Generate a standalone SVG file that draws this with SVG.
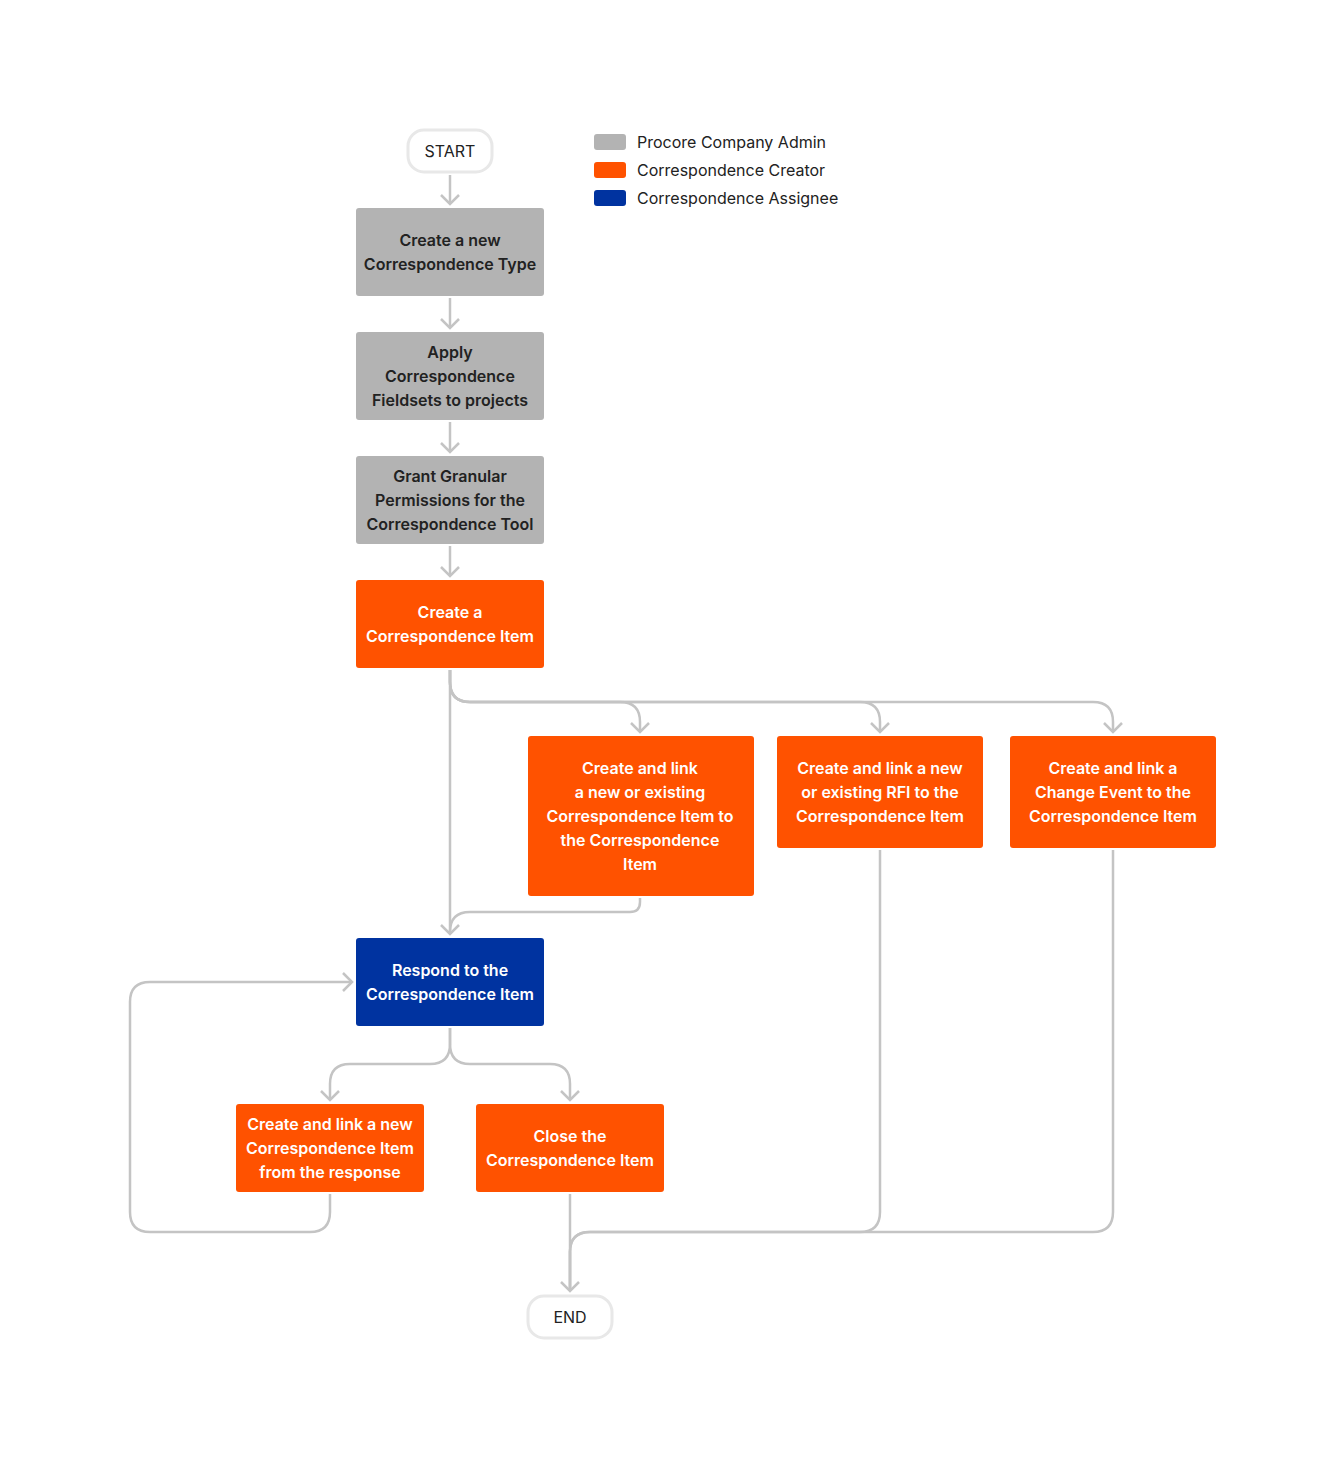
<svg xmlns="http://www.w3.org/2000/svg" width="1344" height="1468" viewBox="0 0 1344 1468">
<defs>
<marker id="arr" markerUnits="userSpaceOnUse" markerWidth="24" markerHeight="24" viewBox="-12 -12 24 24" refX="0" refY="0" orient="auto">
<path d="M-9,-9 L0,0 L-9,9" fill="none" stroke="#c4c4c4" stroke-width="2.5"/>
</marker>
</defs>
<style>
.lbl{font-family:Inter,"Noto Sans","Liberation Sans",sans-serif;font-size:16px;font-weight:600;text-anchor:middle;dominant-baseline:central}
.w{fill:#ffffff}
.d{fill:#222222}
.term{fill:#ffffff;stroke:#e8e8e8;stroke-width:3}
.termt{font-family:Inter,"Noto Sans","Liberation Sans",sans-serif;font-size:16px;font-weight:400;text-anchor:middle;dominant-baseline:central;fill:#222}
.gray{fill:#b3b3b3}
.orange{fill:#ff5200}
.blue{fill:#0033a0}
.leg{font-family:Inter,"Noto Sans","Liberation Sans",sans-serif;font-size:16px;font-weight:400;dominant-baseline:central;fill:#222}
.c{fill:none;stroke:#c4c4c4;stroke-width:2.5}
</style>
<rect width="1344" height="1468" fill="#ffffff"/>
<g id="legend">
<rect x="594" y="134" width="32" height="16" rx="3" class="gray"/>
<text x="637" y="142" class="leg">Procore Company Admin</text>
<rect x="594" y="162" width="32" height="16" rx="3" class="orange"/>
<text x="637" y="170" class="leg">Correspondence Creator</text>
<rect x="594" y="190" width="32" height="16" rx="3" class="blue"/>
<text x="637" y="198" class="leg">Correspondence Assignee</text>
</g>
<g id="connectors">
<path class="c" d="M450,175 V204" marker-end="url(#arr)"/>
<path class="c" d="M450,298 V328" marker-end="url(#arr)"/>
<path class="c" d="M450,422 V452" marker-end="url(#arr)"/>
<path class="c" d="M450,546 V576" marker-end="url(#arr)"/>
<path class="c" d="M450,670 V934" marker-end="url(#arr)"/>
<path class="c" d="M450,670 V682 Q450,702 470,702 H620 Q640,702 640,722 V732" marker-end="url(#arr)"/>
<path class="c" d="M450,670 V682 Q450,702 470,702 H860 Q880,702 880,722 V732" marker-end="url(#arr)"/>
<path class="c" d="M450,670 V682 Q450,702 470,702 H1093 Q1113,702 1113,722 V732" marker-end="url(#arr)"/>
<path class="c" d="M640,898 V902 Q640,912 630,912 H470 Q450,912 450,932 V934"/>
<path class="c" d="M330,1194 V1212 Q330,1232 310,1232 H150 Q130,1232 130,1212 V1002 Q130,982 150,982 H352" marker-end="url(#arr)"/>
<path class="c" d="M450,1028 V1044 Q450,1064 430,1064 H350 Q330,1064 330,1084 V1100" marker-end="url(#arr)"/>
<path class="c" d="M450,1028 V1044 Q450,1064 470,1064 H550 Q570,1064 570,1084 V1100" marker-end="url(#arr)"/>
<path class="c" d="M570,1194 V1291" marker-end="url(#arr)"/>
<path class="c" d="M880,850 V1212 Q880,1232 860,1232 H590 Q570,1232 570,1252 V1291"/>
<path class="c" d="M1113,850 V1212 Q1113,1232 1093,1232 H590 Q570,1232 570,1252 V1291"/>
</g>
<g id="start">
<rect x="408" y="130" width="84" height="42" rx="16" class="term"/>
<text x="450" y="151" class="termt">START</text>
</g>
<g id="n1">
<rect x="356" y="208" width="188" height="88" rx="3" class="gray"/>
<text x="450" y="240" class="lbl d">Create a new</text>
<text x="450" y="264" class="lbl d">Correspondence Type</text>
</g>
<g id="n2">
<rect x="356" y="332" width="188" height="88" rx="3" class="gray"/>
<text x="450" y="352" class="lbl d">Apply</text>
<text x="450" y="376" class="lbl d">Correspondence</text>
<text x="450" y="400" class="lbl d">Fieldsets to projects</text>
</g>
<g id="n3">
<rect x="356" y="456" width="188" height="88" rx="3" class="gray"/>
<text x="450" y="476" class="lbl d">Grant Granular</text>
<text x="450" y="500" class="lbl d">Permissions for the</text>
<text x="450" y="524" class="lbl d">Correspondence Tool</text>
</g>
<g id="n4">
<rect x="356" y="580" width="188" height="88" rx="3" class="orange"/>
<text x="450" y="612" class="lbl w">Create a</text>
<text x="450" y="636" class="lbl w">Correspondence Item</text>
</g>
<g id="n5">
<rect x="528" y="736" width="226" height="160" rx="3" class="orange"/>
<text x="640" y="768" class="lbl w">Create and link</text>
<text x="640" y="792" class="lbl w">a new or existing</text>
<text x="640" y="816" class="lbl w">Correspondence Item to</text>
<text x="640" y="840" class="lbl w">the Correspondence</text>
<text x="640" y="864" class="lbl w">Item</text>
</g>
<g id="n6">
<rect x="777" y="736" width="206" height="112" rx="3" class="orange"/>
<text x="880" y="768" class="lbl w">Create and link a new</text>
<text x="880" y="792" class="lbl w">or existing RFI to the</text>
<text x="880" y="816" class="lbl w">Correspondence Item</text>
</g>
<g id="n7">
<rect x="1010" y="736" width="206" height="112" rx="3" class="orange"/>
<text x="1113" y="768" class="lbl w">Create and link a</text>
<text x="1113" y="792" class="lbl w">Change Event to the</text>
<text x="1113" y="816" class="lbl w">Correspondence Item</text>
</g>
<g id="respond">
<rect x="356" y="938" width="188" height="88" rx="3" class="blue"/>
<text x="450" y="970" class="lbl w">Respond to the</text>
<text x="450" y="994" class="lbl w">Correspondence Item</text>
</g>
<g id="n8">
<rect x="236" y="1104" width="188" height="88" rx="3" class="orange"/>
<text x="330" y="1124" class="lbl w">Create and link a new</text>
<text x="330" y="1148" class="lbl w">Correspondence Item</text>
<text x="330" y="1172" class="lbl w">from the response</text>
</g>
<g id="n9">
<rect x="476" y="1104" width="188" height="88" rx="3" class="orange"/>
<text x="570" y="1136" class="lbl w">Close the</text>
<text x="570" y="1160" class="lbl w">Correspondence Item</text>
</g>
<g id="end">
<rect x="528" y="1296" width="84" height="42" rx="16" class="term"/>
<text x="570" y="1317" class="termt">END</text>
</g>
</svg>
